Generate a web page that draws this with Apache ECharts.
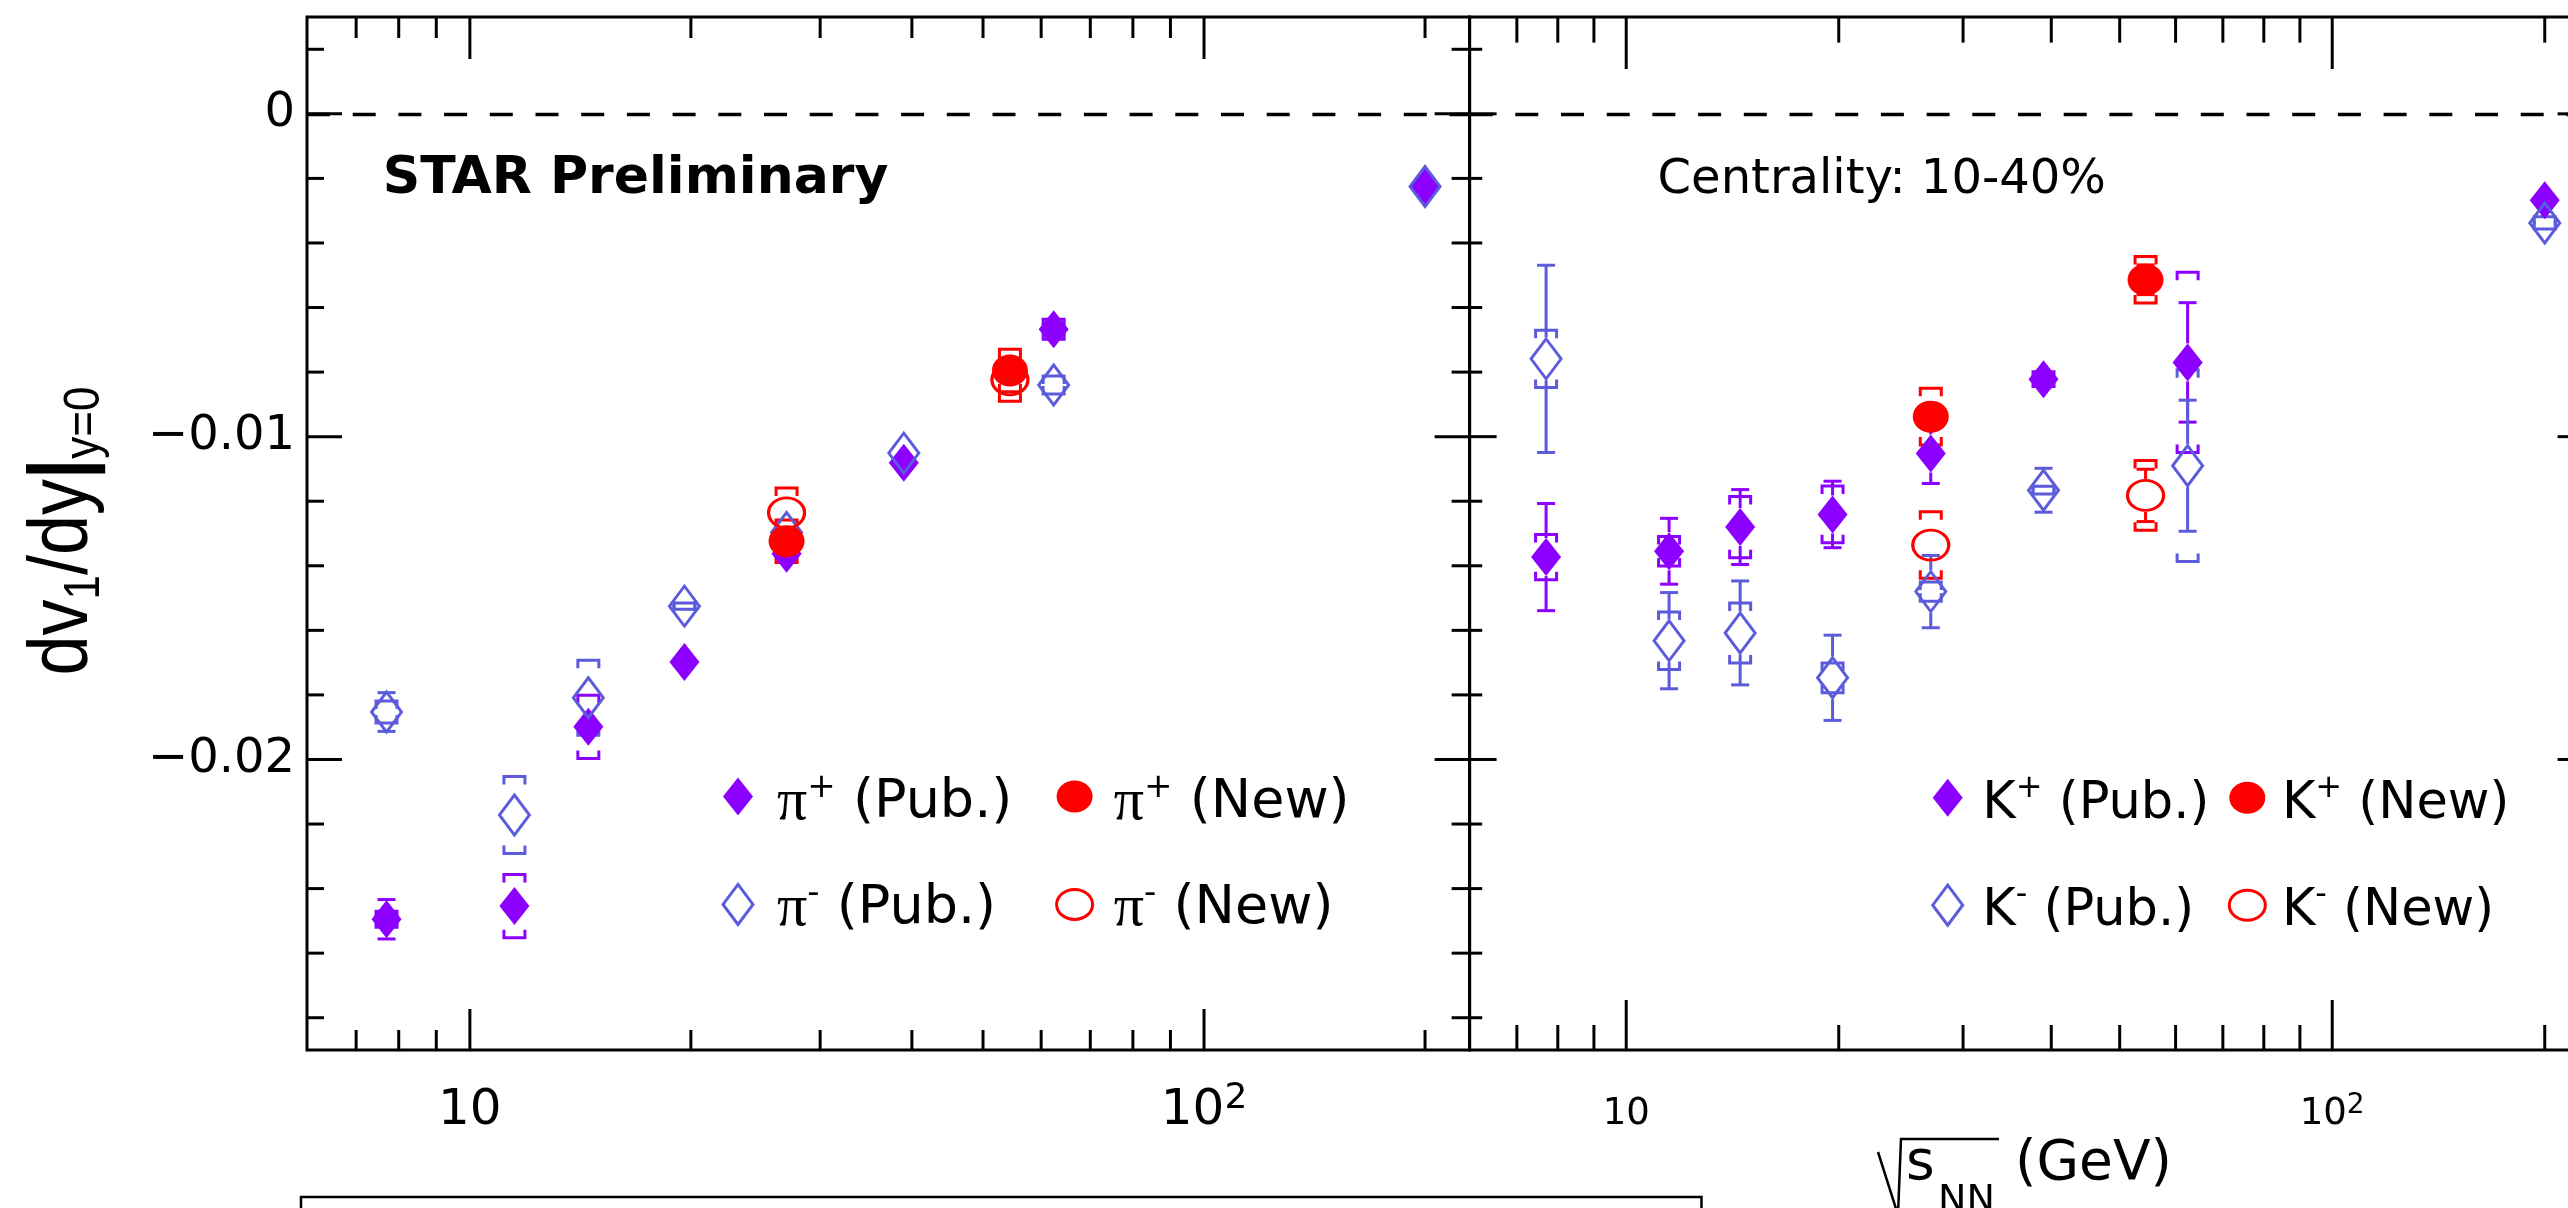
<!DOCTYPE html>
<html>
<head>
<meta charset="utf-8">
<script src="https://cdn.jsdelivr.net/npm/echarts@6/dist/echarts.min.js"></script>
<style>html,body{margin:0;padding:0;background:#fff}#c{width:2568px;height:1208px}</style>
</head>
<body>
<div id="c"></div>
<script>
// ---------------- data ----------------
const energiesPub = [7.7, 11.5, 14.5, 19.6, 27, 39, 62.4, 200];
const energiesNew = [27, 54.4];

const piPlusPub      = [-0.02495, -0.02454, -0.01899, -0.01698, -0.01363, -0.01081, -0.00667, -0.00227];
const piPlusPubStat  = [0.00061, 0, 0, 0, 0, 0, 0, 0];
const piPlusPubSys   = [0.00025, 0.00098, 0.00098, 0, 0, 0, 0.00031, 0];
const piMinusPub     = [-0.01853, -0.02172, -0.01809, -0.01525, -0.01297, -0.01051, -0.0084, -0.00225];
const piMinusPubStat = [0.0006, 0, 0, 0, 0, 0, 0, 0];
const piMinusPubSys  = [0.00034, 0.00119, 0.00116, 0.0001, 0, 0, 0.00028, 0];
const piPlusNew      = [-0.01324, -0.00795];
const piPlusNewStat  = [0, 0];
const piPlusNewSys   = [0.00066, 0.00066];
const piMinusNew     = [-0.01236, -0.00824];
const piMinusNewStat = [0, 0];
const piMinusNewSys  = [0.00077, 0.00066];

const kPlusPub       = [-0.01373, -0.01355, -0.0128, -0.01241, -0.01052, -0.00822, -0.0077, -0.00268];
const kPlusPubStat   = [0.00166, 0.00102, 0.00116, 0.00103, 0.00093, 0, 0.00185, 0];
const kPlusPubSys    = [0.0007, 0.00046, 0.00095, 0.00088, 0, 0.00023, 0.00279, 0];
const kMinusPub      = [-0.00759, -0.01632, -0.01608, -0.01747, -0.0148, -0.01166, -0.0109, -0.00338];
const kMinusPubStat  = [0.0029, 0.00149, 0.00161, 0.00132, 0.00112, 0.00068, 0.00203, 0];
const kMinusPubSys   = [0.00089, 0.00089, 0.00093, 0.00046, 0.0003, 0.00012, 0.00297, 0.00019];
const kPlusNew       = [-0.00938, -0.00514];
const kPlusNewStat   = [0, 0.00046];
const kPlusNewSys    = [0.00088, 0.00072];
const kMinusNew      = [-0.01336, -0.01182];
const kMinusNewStat  = [0, 0.00081];
const kMinusNewSys   = [0.00103, 0.00108];

const xRange = [6, 230];
const yRange = [-0.029, 0.003];
const xMajorTicks = [10, 100];
const xMinorTicks = [7, 8, 9, 20, 30, 40, 50, 60, 70, 80, 90, 200];
const yMajorTicks = [-0.02, -0.01, 0];
const yMinorTicks = [-0.028, -0.026, -0.024, -0.022, -0.018, -0.016, -0.014, -0.012, -0.008, -0.006, -0.004, -0.002, 0.002];

// ---------------- styling ----------------
const PURPLE = '#8c00ff', BLUE = '#5b5bdc', RED = '#ff0000';
const FONT = 'DejaVu Sans';
const SYM = {
  fd: { symbol: 'diamond', size: [30, 38], gap: 19 },
  od: { symbol: 'diamond', size: [30, 40], gap: 21.5 },
  fc: { symbol: 'path://M0,10A10,10 0 1,1 20,10A10,10 0 1,1 0,10Z', size: [36, 32], gap: 16 },
  oc: { symbol: 'path://M0,10A10,10 0 1,1 20,10A10,10 0 1,1 0,10Z', size: [36, 30], gap: 16.5 }
};

function tickSeriesX(gi, vals, lenB, lenT) {
  return {
    type: 'custom', xAxisIndex: gi, yAxisIndex: gi, silent: true, z: 5, clip: false,
    data: vals.map(v => [v, yRange[0]]),
    renderItem(params, api) {
      const cs = params.coordSys;
      const x = api.coord([api.value(0), api.value(1)])[0];
      const yb = cs.y + cs.height, yt = cs.y;
      const st = { stroke: '#000', lineWidth: 3 };
      return { type: 'group', children: [
        { type: 'line', shape: { x1: x, y1: yb, x2: x, y2: yb - lenB }, style: st },
        { type: 'line', shape: { x1: x, y1: yt, x2: x, y2: yt + lenT }, style: st }
      ]};
    }
  };
}
function tickSeriesY(gi, vals, lenL, lenR) {
  return {
    type: 'custom', xAxisIndex: gi, yAxisIndex: gi, silent: true, z: 5, clip: false,
    data: vals.map(v => [xRange[0], v]),
    renderItem(params, api) {
      const cs = params.coordSys;
      const y = api.coord([api.value(0), api.value(1)])[1];
      const xl = cs.x, xr = cs.x + cs.width;
      const st = { stroke: '#000', lineWidth: 3 };
      return { type: 'group', children: [
        { type: 'line', shape: { x1: xl, y1: y, x2: xl + lenL, y2: y }, style: st },
        { type: 'line', shape: { x1: xr, y1: y, x2: xr - lenR, y2: y }, style: st }
      ]};
    }
  };
}

function errSeries(gi, xs, ys, stat, sys, color, gap) {
  return {
    type: 'custom', xAxisIndex: gi, yAxisIndex: gi, silent: true, z: 10, clip: false,
    data: xs.map((x, i) => [x, ys[i], stat[i], sys[i]]),
    encode: { x: 0, y: 1 },
    renderItem(params, api) {
      const x = api.value(0), y = api.value(1), es = api.value(2), ey = api.value(3);
      const c = api.coord([x, y]);
      const cx = c[0], cy = c[1];
      const style = { stroke: color, lineWidth: 3, fill: null };
      const ch = [];
      const L = (x1, y1, x2, y2) => ({ type: 'line', shape: { x1, y1, x2, y2 }, style });
      if (es > 0) {
        const y1 = api.coord([x, y + es])[1], y2 = api.coord([x, y - es])[1];
        if (cy - y1 > gap) ch.push(L(cx, y1, cx, cy - gap));
        if (y2 - cy > gap) ch.push(L(cx, cy + gap, cx, y2));
        ch.push(L(cx - 9, y1, cx + 9, y1), L(cx - 9, y2, cx + 9, y2));
      }
      if (ey > 0) {
        const s1 = api.coord([x, y + ey])[1], s2 = api.coord([x, y - ey])[1];
        const bw = 10.5, leg = 8;
        ch.push({ type: 'polyline', shape: { points: [[cx - bw, s1 + leg], [cx - bw, s1], [cx + bw, s1], [cx + bw, s1 + leg]] }, style });
        ch.push({ type: 'polyline', shape: { points: [[cx - bw, s2 - leg], [cx - bw, s2], [cx + bw, s2], [cx + bw, s2 - leg]] }, style });
      }
      return { type: 'group', children: ch };
    }
  };
}

function markerSeries(gi, name, xs, ys, kind, color) {
  const open = kind[0] === 'o';
  return {
    type: 'scatter', name, xAxisIndex: gi, yAxisIndex: gi, silent: true, z: 10,
    symbol: SYM[kind].symbol, symbolSize: SYM[kind].size,
    itemStyle: open ? { color: 'rgba(0,0,0,0)', borderColor: color, borderWidth: 3, opacity: 1 }
                    : { color: color, borderWidth: 0, opacity: 1 },
    data: xs.map((x, i) => [x, ys[i]])
  };
}

const series = [];
function addPair(gi, name, xs, ys, st, sy, kind, color) {
  series.push(errSeries(gi, xs, ys, st, sy, color, SYM[kind].gap));
  series.push(markerSeries(gi, name, xs, ys, kind, color));
}
// ticks
series.push(tickSeriesX(0, xMinorTicks, 20, 21), tickSeriesX(0, xMajorTicks, 41, 42));
series.push(tickSeriesY(0, yMinorTicks, 17, 18), tickSeriesY(0, yMajorTicks, 35, 35));
series.push(tickSeriesX(1, xMinorTicks, 25, 25.6), tickSeriesX(1, xMajorTicks, 50, 52));
series.push(tickSeriesY(1, yMinorTicks, 12.6, 15), tickSeriesY(1, yMajorTicks, 27, 30));

addPair(0, 'π+ (Pub.)', energiesPub, piPlusPub, piPlusPubStat, piPlusPubSys, 'fd', PURPLE);
addPair(0, 'π- (Pub.)', energiesPub, piMinusPub, piMinusPubStat, piMinusPubSys, 'od', BLUE);
addPair(0, 'π+ (New)', energiesNew, piPlusNew, piPlusNewStat, piPlusNewSys, 'fc', RED);
addPair(0, 'π- (New)', energiesNew, piMinusNew, piMinusNewStat, piMinusNewSys, 'oc', RED);
addPair(1, 'K+ (Pub.)', energiesPub, kPlusPub, kPlusPubStat, kPlusPubSys, 'fd', PURPLE);
addPair(1, 'K- (Pub.)', energiesPub, kMinusPub, kMinusPubStat, kMinusPubSys, 'od', BLUE);
addPair(1, 'K+ (New)', energiesNew, kPlusNew, kPlusNewStat, kPlusNewSys, 'fc', RED);
addPair(1, 'K- (New)', energiesNew, kMinusNew, kMinusNewStat, kMinusNewSys, 'oc', RED);

// zero reference lines
[0, 1].forEach(gi => {
  series.push({
    type: 'line', xAxisIndex: gi, yAxisIndex: gi, data: [], silent: true, z: 4,
    markLine: {
      silent: true, symbol: ['none', 'none'], animation: false,
      label: { show: false },
      lineStyle: { color: '#000', width: 3.3, type: [23, 22.7] },
      data: [{ yAxis: 0 }]
    }
  });
});

function xAxisCfg(gi, size, supSize, margin, mainH, supH) {
  return {
    type: 'log', logBase: 10, gridIndex: gi, min: xRange[0], max: xRange[1],
    axisLine: { show: false }, axisTick: { show: false }, splitLine: { show: false },
    minorTick: { show: false }, minorSplitLine: { show: false },
    axisLabel: {
      show: true, margin, color: '#000', fontFamily: FONT, fontSize: size, lineHeight: mainH,
      showMinLabel: false, showMaxLabel: false,
      formatter: v => {
        const e = Math.log10(v);
        if (Math.abs(e - 1) < 1e-6) return '{m|10}';
        if (Math.abs(e - 2) < 1e-6) return '{m|10}{u|2}';
        return '';
      },
      rich: {
        m: { fontFamily: FONT, fontSize: size, lineHeight: mainH, color: '#000' },
        u: { fontFamily: FONT, fontSize: supSize, lineHeight: supH, verticalAlign: 'top', color: '#000' }
      }
    }
  };
}
function yAxisCfg(gi, showLabels) {
  return {
    type: 'value', gridIndex: gi, min: yRange[0], max: yRange[1],
    minInterval: 0.005, maxInterval: 0.005,
    axisLine: { show: false }, axisTick: { show: false }, splitLine: { show: false },
    axisLabel: {
      show: showLabels, margin: 12, color: '#000', fontFamily: FONT, fontSize: 48,
      padding: [7, 0, 0, 0],
      formatter: v => {
        for (const t of yMajorTicks) {
          if (Math.abs(v - t) < 1e-7) return t === 0 ? '0' : '\u2212' + Math.abs(t).toFixed(2);
        }
        return '';
      }
    }
  };
}

// ---------------- annotations ----------------
function diamond(cx, cy, w, h, color, open) {
  return { type: 'polygon', silent: true, z: 20,
    shape: { points: [[cx, cy - h / 2], [cx + w / 2, cy], [cx, cy + h / 2], [cx - w / 2, cy]] },
    style: open ? { fill: null, stroke: color, lineWidth: 3 } : { fill: color, stroke: null } };
}
function ellipse(cx, cy, rx, ry, color, open) {
  return { type: 'ellipse', silent: true, z: 20, shape: { cx, cy, rx, ry },
    style: open ? { fill: null, stroke: color, lineWidth: 3 } : { fill: color, stroke: null } };
}
function richText(x, y, text, rich) {
  return { type: 'text', x, y, silent: true, z: 20,
    style: { text, rich, fill: '#000', align: 'left', verticalAlign: 'middle', textAlign: 'left', textVerticalAlign: 'middle' } };
}
const legRichL = {
  p: { fontFamily: 'Liberation Serif', fontSize: 60, lineHeight: 64, color: '#000' },
  t: { fontFamily: FONT, fontSize: 54, lineHeight: 64, color: '#000' },
  u: { fontFamily: FONT, fontSize: 34, lineHeight: 53, verticalAlign: 'top', color: '#000' },
  d: { fontFamily: FONT, fontSize: 34, lineHeight: 18, verticalAlign: 'top', color: '#000' }
};
const legRichR = {
  k: { fontFamily: FONT, fontSize: 51, lineHeight: 64, color: '#000' },
  t: { fontFamily: FONT, fontSize: 51, lineHeight: 64, color: '#000' },
  u: { fontFamily: FONT, fontSize: 32, lineHeight: 41, verticalAlign: 'top', color: '#000' },
  d: { fontFamily: FONT, fontSize: 32, lineHeight: 14, verticalAlign: 'top', color: '#000' }
};

const graphics = [
  // panel texts
  { type: 'text', x: 382.7, y: 179, silent: true, z: 20,
    style: { text: 'STAR Preliminary', font: 'bold 52px "DejaVu Sans"', fill: '#000', align: 'left', verticalAlign: 'middle', textAlign: 'left', textVerticalAlign: 'middle' } },
  { type: 'text', x: 1657.6, y: 180.4, silent: true, z: 20,
    style: { text: 'Centrality: 10-40%', font: '48px "DejaVu Sans"', fill: '#000', align: 'left', verticalAlign: 'middle', textAlign: 'left', textVerticalAlign: 'middle' } },
  // left legend
  diamond(738, 796.6, 30, 38, PURPLE, false),
  richText(777, 803.3, '{p|π}{u|+}{t| (Pub.)}', legRichL),
  ellipse(1074.6, 796.6, 18, 16, RED, false),
  richText(1113.8, 803.3, '{p|π}{u|+}{t| (New)}', legRichL),
  diamond(738, 904.4, 30, 40, BLUE, true),
  richText(777, 909.3, '{p|π}{d|-}{t| (Pub.)}', legRichL),
  ellipse(1074.6, 904.4, 18, 15, RED, true),
  richText(1113.8, 909.3, '{p|π}{d|-}{t| (New)}', legRichL),
  // right legend
  diamond(1947.7, 797.8, 30, 38, PURPLE, false),
  richText(1982.3, 804.4, '{k|K}{u|+}{t| (Pub.)}', legRichR),
  ellipse(2247.3, 797.8, 18, 16, RED, false),
  richText(2281.9, 804.4, '{k|K}{u|+}{t| (New)}', legRichR),
  diamond(1947.7, 905.2, 30, 40, BLUE, true),
  richText(1982.3, 911.4, '{k|K}{d|-}{t| (Pub.)}', legRichR),
  ellipse(2247.3, 905.2, 18, 15, RED, true),
  richText(2281.9, 911.4, '{k|K}{d|-}{t| (New)}', legRichR),
  // y axis title
  { type: 'text', x: 64, y: 531, rotation: Math.PI / 2, scaleY: 1.15, silent: true, z: 20,
    style: { text: '{a|dv}{s|1}{a|/dy}{b||}{s|y=0}', fill: '#000', align: 'center', verticalAlign: 'middle', textAlign: 'center', textVerticalAlign: 'middle',
      rich: {
        a: { fontFamily: 'Liberation Sans', fontSize: 72, lineHeight: 80, color: '#000' },
        b: { fontFamily: 'Liberation Sans', fontSize: 72, fontWeight: 'bold', lineHeight: 80, color: '#000' },
        s: { fontFamily: 'Liberation Sans', fontSize: 44, lineHeight: 8, verticalAlign: 'bottom', color: '#000' }
      } } },
  // x axis title
  { type: 'polyline', silent: true, z: 20, shape: { points: [[1878, 1152], [1898, 1215], [1901, 1139], [1999, 1139]] },
    style: { stroke: '#000', lineWidth: 2.5, fill: null } },
  { type: 'text', x: 1906, y: 1164.6, silent: true, z: 20,
    style: { text: 's', font: '55px "DejaVu Sans"', fill: '#000', align: 'left', verticalAlign: 'middle', textAlign: 'left', textVerticalAlign: 'middle' } },
  { type: 'text', x: 1938, y: 1201, silent: true, z: 20,
    style: { text: 'NN', font: '38px "DejaVu Sans"', fill: '#000', align: 'left', verticalAlign: 'middle', textAlign: 'left', textVerticalAlign: 'middle' } },
  { type: 'text', x: 2015, y: 1164.6, silent: true, z: 20,
    style: { text: '(GeV)', font: '55px "DejaVu Sans"', fill: '#000', align: 'left', verticalAlign: 'middle', textAlign: 'left', textVerticalAlign: 'middle' } },
  // bottom box (cut off)
  { type: 'rect', silent: true, z: 20, shape: { x: 301, y: 1197, width: 1400.5, height: 60 },
    style: { fill: null, stroke: '#000', lineWidth: 2.5 } }
];

const chart = echarts.init(document.getElementById('c'), null, { renderer: 'canvas', width: 2568, height: 1208 });
chart.setOption({
  animation: false,
  backgroundColor: '#fff',
  grid: [
    { left: 307, top: 17, width: 1162.6, height: 1033, show: true, borderColor: '#000', borderWidth: 3, backgroundColor: 'transparent', containLabel: false, outerBoundsMode: 'none' },
    { left: 1469.6, top: 17, width: 1118, height: 1033, show: true, borderColor: '#000', borderWidth: 3, backgroundColor: 'transparent', containLabel: false, outerBoundsMode: 'none' }
  ],
  xAxis: [xAxisCfg(0, 50, 36, 31, 60, 10), xAxisCfg(1, 37, 28, 42, 44, 20)],
  yAxis: [yAxisCfg(0, true), yAxisCfg(1, false)],
  tooltip: { show: false },
  legend: { show: false },
  graphic: graphics,
  series
});
</script>
</body>
</html>
